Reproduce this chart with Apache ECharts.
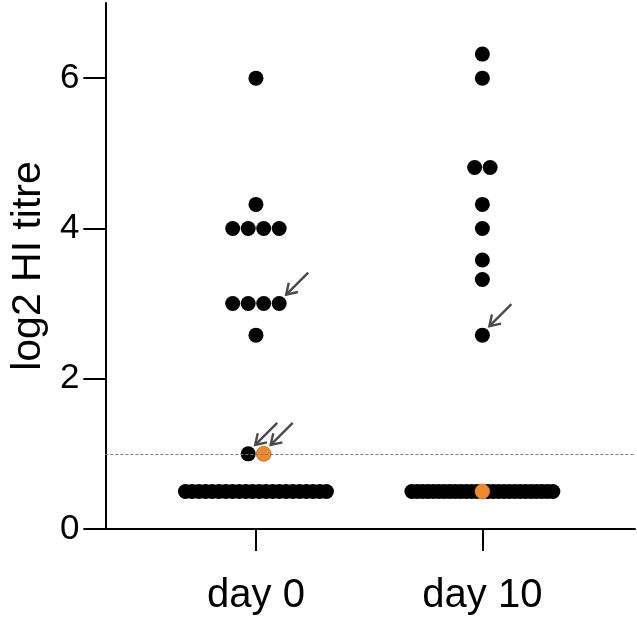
<!DOCTYPE html>
<html>
<head>
<meta charset="utf-8">
<script src="https://cdn.jsdelivr.net/npm/echarts@6/dist/echarts.min.js"></script>
<style>html,body{margin:0;padding:0;background:#fff}#c{width:637px;height:619px}</style>
</head>
<body>
<div id="c"></div>
<script>
// ---- data ----
const categories = ['day 0', 'day 10'];
const yTicks = [0, 2, 4, 6];
const detectionLimit = 1;
const day0Black = [6, 4.32, 4, 4, 4, 4, 3, 3, 3, 3, 2.58, 1,
  0.5, 0.5, 0.5, 0.5, 0.5, 0.5, 0.5, 0.5, 0.5, 0.5, 0.5,
  0.5, 0.5, 0.5, 0.5, 0.5, 0.5, 0.5, 0.5, 0.5, 0.5, 0.5];
const day0Orange = [1];
const day10Black = [6.32, 6, 4.81, 4.81, 4.32, 4, 3.58, 3.32, 2.58,
  0.5, 0.5, 0.5, 0.5, 0.5, 0.5, 0.5, 0.5, 0.5, 0.5, 0.5, 0.5, 0.5,
  0.5, 0.5, 0.5, 0.5, 0.5, 0.5, 0.5, 0.5, 0.5, 0.5, 0.5, 0.5, 0.5];
const day10Orange = [0.5];
// arrows: [group index, value, colour of the pointed dot]
const arrowTargets = [[0, 3, 'black'], [0, 1, 'black'], [0, 1, 'orange'], [1, 2.58, 'black']];

// ---- swarm layout (pixel offsets) ----
const DOT = 15, STEP = 15.5, MAXSPAN = 141;
function swarm(g, black, orange) {
  const rows = {};
  black.forEach(v => { (rows[v] = rows[v] || []).push('black'); });
  orange.forEach(v => {
    const r = (rows[v] = rows[v] || []);
    const idx = r.length <= 2 ? r.length : Math.floor((r.length + 1) / 2);
    r.splice(idx, 0, 'orange');
  });
  const pts = [];
  Object.keys(rows).forEach(k => {
    const r = rows[k], n = r.length;
    const step = n > 1 ? Math.min(STEP, MAXSPAN / (n - 1)) : 0;
    r.forEach((c, i) => pts.push({ g, v: +k, c, dx: (i - (n - 1) / 2) * step }));
  });
  return pts;
}
const pts = swarm(0, day0Black, day0Orange).concat(swarm(1, day10Black, day10Orange));
const blackData = pts.filter(p => p.c === 'black').map(p => ({ value: [p.g, p.v], symbolOffset: [p.dx, 0] }));
const orangeData = pts.filter(p => p.c === 'orange').map(p => ({ value: [p.g, p.v], symbolOffset: [p.dx, 0] }));
const arrowData = arrowTargets.map(([g, v, c]) => {
  const cand = pts.filter(p => p.g === g && p.v === v && p.c === c);
  const p = cand.reduce((a, b) => (b.dx > a.dx ? b : a));
  return [g, v, p.dx];
});

const FONT = 'Liberation Sans, Arial, sans-serif';
const chart = echarts.init(document.getElementById('c'), null, { renderer: 'canvas' });
chart.setOption({
  animation: false,
  grid: { left: 104, right: 2, top: 3, bottom: 90, containLabel: false },
  xAxis: {
    type: 'value', min: -0.665, max: 1.674,
    splitLine: { show: false },
    axisLine: { show: true, onZero: false, lineStyle: { color: '#000', width: 2 } },
    axisTick: { show: true, customValues: [0, 1], length: 22, lineStyle: { color: '#000', width: 2 } },
    axisLabel: { customValues: [0, 1], formatter: v => categories[Math.round(v)], color: '#000',
      fontSize: 40, fontFamily: FONT, margin: 47 }
  },
  yAxis: {
    type: 'value', min: 0, max: 7,
    name: 'log2 HI titre', nameLocation: 'middle', nameGap: 56, nameRotate: 90,
    nameTextStyle: { color: '#000', fontSize: 41, fontFamily: FONT },
    splitLine: { show: false },
    axisLine: { show: true, onZero: false, lineStyle: { color: '#000', width: 2 } },
    axisTick: { show: true, customValues: yTicks, length: 22, lineStyle: { color: '#000', width: 2 } },
    axisLabel: { customValues: yTicks, color: '#000', fontSize: 35, fontFamily: FONT, margin: 26 }
  },
  series: [
    {
      type: 'scatter', symbol: 'circle', symbolSize: DOT, data: blackData,
      itemStyle: { color: '#000', opacity: 1 }, z: 3, silent: true,
      markLine: {
        silent: true, symbol: ['none', 'none'], label: { show: false },
        lineStyle: { color: '#7a7a7a', type: [3, 2], width: 1.2 },
        data: [{ yAxis: detectionLimit }]
      }
    },
    {
      type: 'scatter', symbol: 'circle', symbolSize: DOT, data: orangeData,
      itemStyle: { color: '#F0892B', borderColor: '#b0601c', borderWidth: 0.6, opacity: 1 }, z: 4, silent: true
    },
    {
      type: 'custom', coordinateSystem: 'cartesian2d', data: arrowData, z: 5, silent: true,
      encode: { x: 0, y: 1 },
      renderItem: function (params, api) {
        const c = api.coord([api.value(0), api.value(1)]);
        const hx = c[0] + api.value(2) + 7, hy = c[1] - 9;
        const tx = hx + 22, ty = hy - 22;
        const ang = Math.atan2(ty - hy, tx - hx), L = 12, a = Math.PI / 5.5;
        const w1 = [hx + L * Math.cos(ang + a), hy + L * Math.sin(ang + a)];
        const w2 = [hx + L * Math.cos(ang - a), hy + L * Math.sin(ang - a)];
        const st = { stroke: '#4a4a4a', lineWidth: 2.4, fill: null };
        return { type: 'group', children: [
          { type: 'line', shape: { x1: hx, y1: hy, x2: tx, y2: ty }, style: st },
          { type: 'polyline', shape: { points: [w1, [hx, hy], w2] }, style: st }
        ] };
      }
    }
  ]
});
</script>
</body>
</html>
